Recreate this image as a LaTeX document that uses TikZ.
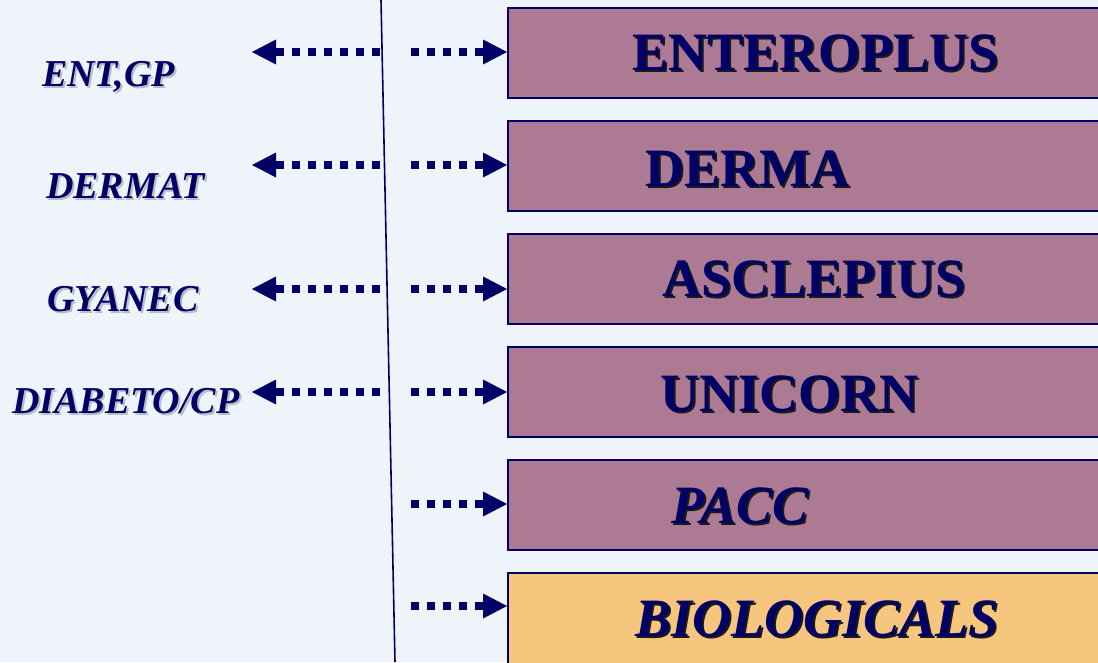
\documentclass[tikz,border=0pt]{standalone}
\usepackage{fontspec}
\setmainfont{Liberation Serif}
\usetikzlibrary{arrows.meta}
\definecolor{bg}{HTML}{EFF4FA}
\definecolor{mauve}{HTML}{AC7A92}
\definecolor{gold}{HTML}{F7C67E}
\definecolor{navy}{HTML}{000066}
\definecolor{lshadow}{HTML}{B8BCC4}
\definecolor{dshadow}{HTML}{1A1A1A}
\newcommand{\shtext}[2]{\rlap{\kern2pt\raisebox{-2pt}{\color{#1}#2}}#2}
\tikzset{
  boxstyle/.style={draw=navy, line width=1.6pt, rectangle, minimum height=90pt, minimum width=620pt, anchor=north west, inner sep=0pt},
  boxtext/.style={anchor=base west, inner sep=0pt, text=navy, font=\fontsize{54}{60}\selectfont\bfseries},
  sidelabel/.style={anchor=base west, inner sep=0pt, text=navy, font=\fontsize{38}{42}\selectfont\bfseries\itshape},
  dotarrow/.style={draw=navy, line width=8pt, dash pattern=on 8pt off 8pt, -{Triangle[length=24pt,width=25pt,line width=0pt]}}
}
\begin{document}
\begin{tikzpicture}[x=1pt,y=-1pt]
\useasboundingbox (0,0) rectangle (1098,662);
\clip (0,0) rectangle (1098,662);
\fill[bg] (0,0) rectangle (1098,662);
% boxes
\node[boxstyle, fill=mauve] (b1) at (507,7) {};
\node[boxstyle, fill=mauve] (b2) at (507,120) {};
\node[boxstyle, fill=mauve] (b3) at (507,233) {};
\node[boxstyle, fill=mauve] (b4) at (507,346) {};
\node[boxstyle, fill=mauve] (b5) at (507,459) {};
\node[boxstyle, fill=gold, minimum height=100pt] (b6) at (507,572) {};
% box texts
\node[boxtext] (t1) at (632,70) {\shtext{dshadow}{ENTEROPLUS}};
\node[boxtext] (t2) at (645,186) {\shtext{dshadow}{DERMA}};
\node[boxtext] (t3) at (662,296) {\shtext{dshadow}{ASCLEPIUS}};
\node[boxtext] (t4) at (660,411) {\shtext{dshadow}{UNICORN}};
\node[boxtext, font=\fontsize{54}{60}\selectfont\bfseries\itshape] (t5) at (671,523) {\shtext{dshadow}{PACC}};
\node[boxtext, font=\fontsize{54}{60}\selectfont\bfseries\itshape] (t6) at (635,636) {\shtext{dshadow}{BIOLOGICALS}};
% side labels
\node[sidelabel] (l1) at (42,86) {\shtext{lshadow}{ENT,GP}};
\node[sidelabel] (l2) at (46,198) {\shtext{lshadow}{DERMAT}};
\node[sidelabel] (l3) at (47,311) {\shtext{lshadow}{GYANEC}};
\node[sidelabel] (l4) at (12,413) {\shtext{lshadow}{DIABETO/CP}};
% divider line
\coordinate (vtop) at (381,0);
\coordinate (vbot) at (395,662);
\draw[navy, line width=1.6pt] (vtop) -- (vbot);
% right arrows
\foreach \i/\y in {1/52,2/165,3/289,4/392,5/504,6/606}{
  \coordinate (rs\i) at (411,\y);
  \draw[dotarrow] (rs\i) -- (b\i.west |- rs\i);
}
% left arrows
\foreach \i/\y in {1/52,2/165,3/289,4/392}{
  \coordinate (ls\i) at (379.5,\y);
  \coordinate (le\i) at (252,\y);
  \draw[dotarrow] (ls\i) -- (le\i);
}
\end{tikzpicture}
\end{document}
